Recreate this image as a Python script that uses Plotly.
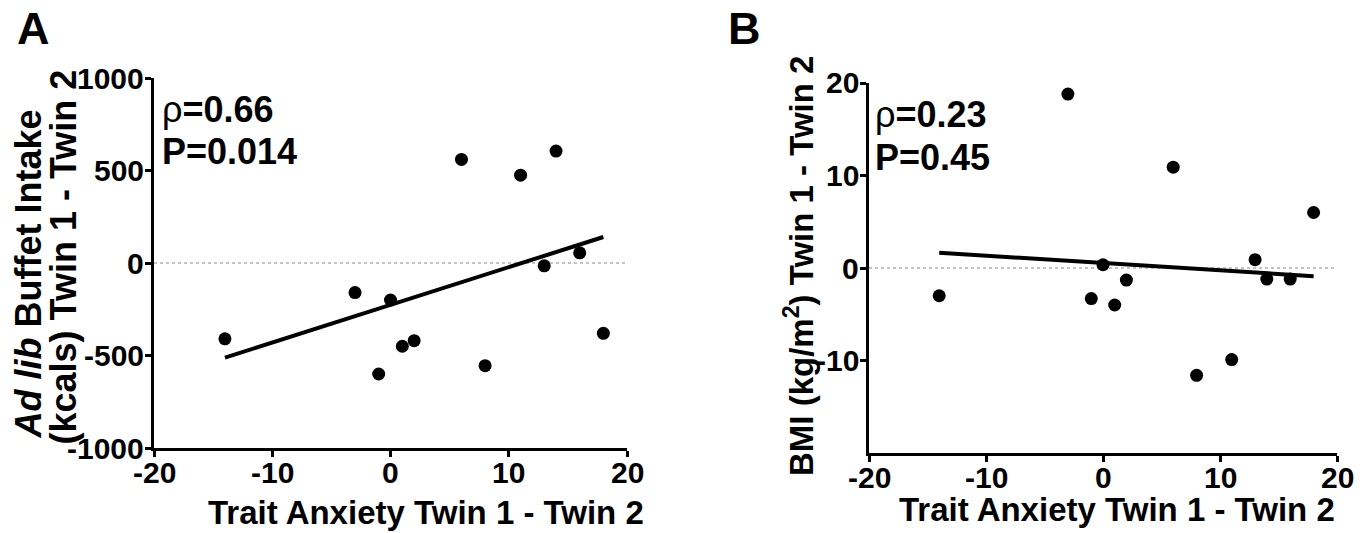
import numpy as np
import plotly.graph_objects as go

W, H = 1371, 533
FONT = "Liberation Sans, Arial, Helvetica, sans-serif"

# Panel A: trait anxiety difference vs. ad lib buffet intake difference
anxiety_a = [-14, -3, 0, -1, 1, 2, 6, 8, 11, 13, 14, 16, 18]
intake_a = [-410, -160, -200, -600, -450, -420, 560, -555, 475, -15, 605, 55, -380]

# Panel B: trait anxiety difference vs. BMI difference
anxiety_b = [-14, -3, -1, 0, 1, 2, 6, 8, 11, 13, 14, 16, 18]
bmi_b = [-3.0, 18.8, -3.3, 0.35, -4.0, -1.3, 10.9, -11.6, -9.9, 0.9, -1.2, -1.2, 6.0]

x_ticks = [-20, -10, 0, 10, 20]
x_tick_labels = ["-20", "-10", "0", "10", "20"]
a_y_ticks = [-1000, -500, 0, 500, 1000]
a_y_tick_labels = ["-1000", "-500", "0", "500", "1000"]
b_y_ticks = [-10, 0, 10, 20]
b_y_tick_labels = ["-10", "0", "10", "20"]

rho_a, p_a = "0.66", "0.014"
rho_b, p_b = "0.23", "0.45"

# plot-area edges in pixels: (left, right, top, bottom)
BOX_A = (154, 627, 78, 448)
BOX_B = (869, 1337, 83, 453)


def px_x(px):
    return px / W


def px_y(py):
    return 1 - py / H


def fit_line(x, y):
    slope, intercept = np.polyfit(x, y, 1)
    xs = np.array([min(x), max(x)], dtype=float)
    return xs, slope * xs + intercept


fig = go.Figure()

for xs, ys, xa, ya in [(anxiety_a, intake_a, "x", "y"), (anxiety_b, bmi_b, "x2", "y2")]:
    lx, ly = fit_line(xs, ys)
    fig.add_trace(go.Scatter(x=lx, y=ly, mode="lines", xaxis=xa, yaxis=ya,
                             line=dict(color="black", width=4), showlegend=False,
                             hoverinfo="skip"))
    fig.add_trace(go.Scatter(x=xs, y=ys, mode="markers", xaxis=xa, yaxis=ya,
                             marker=dict(color="black", size=13, line=dict(width=0)),
                             showlegend=False))

axis_common = dict(showline=True, linecolor="black", linewidth=3, ticks="outside",
                   ticklen=6, tickwidth=2.5, tickcolor="black", showgrid=False,
                   zeroline=False, showticklabels=False, fixedrange=True,
                   automargin=False, tickmode="array")

fig.update_layout(
    template="none",
    width=W, height=H, autosize=False,
    margin=dict(l=0, r=0, t=0, b=0),
    paper_bgcolor="white", plot_bgcolor="white",
    xaxis=dict(domain=[px_x(BOX_A[0]), px_x(BOX_A[1])], range=[-20, 20],
               tickvals=x_ticks, anchor="y", **axis_common),
    yaxis=dict(domain=[px_y(BOX_A[3]), px_y(BOX_A[2])], range=[-1000, 1000],
               tickvals=a_y_ticks, anchor="x", **axis_common),
    xaxis2=dict(domain=[px_x(BOX_B[0]), px_x(BOX_B[1])], range=[-20, 20],
                tickvals=x_ticks, anchor="y2", **axis_common),
    yaxis2=dict(domain=[px_y(BOX_B[3]), px_y(BOX_B[2])], range=[-20, 20],
                tickvals=b_y_ticks, anchor="x2", **axis_common),
)

# dotted reference line at zero
for xr, yr in [("x", "y"), ("x2", "y2")]:
    fig.add_shape(type="line", xref=xr, yref=yr, x0=-20, x1=20, y0=0, y1=0,
                  line=dict(color="#8a8a8a", width=1, dash="dot"), layer="below")

tick_font = dict(family=FONT, size=30, color="black", weight="bold")
title_font = dict(family=FONT, size=33, color="black", weight="bold")
ytitle_font_a = dict(family=FONT, size=36, color="black", weight="bold")
stat_font = dict(family=FONT, size=36, color="black", weight="bold")
letter_font = dict(family=FONT, size=45, color="black", weight="bold")

annotations = []

# tick labels, set tight against the axes
for xr, yr, box, yvals, ylabels in [("x", "y", BOX_A, a_y_ticks, a_y_tick_labels),
                                      ("x2", "y2", BOX_B, b_y_ticks, b_y_tick_labels)]:
    for v, t in zip(x_ticks, x_tick_labels):
        annotations.append(dict(text=t, xref=xr, x=v, yref="paper", y=px_y(box[3] + 24),
                                xanchor="center", yanchor="middle", font=tick_font))
    for v, t in zip(yvals, ylabels):
        annotations.append(dict(text=t, xref="paper", x=px_x(box[0] - 8), yref=yr, y=v,
                                xanchor="right", yanchor="middle", font=tick_font))

annotations += [
    # panel letters
    dict(text="A", x=px_x(15), y=px_y(29), xanchor="left", yanchor="middle", font=letter_font),
    dict(text="B", x=px_x(726), y=px_y(29), xanchor="left", yanchor="middle", font=letter_font),
    # x-axis titles
    dict(text="Trait Anxiety Twin 1 - Twin 2", x=px_x(426), y=px_y(512),
         xanchor="center", yanchor="middle", font=title_font),
    dict(text="Trait Anxiety Twin 1 - Twin 2", x=px_x(1117), y=px_y(509),
         xanchor="center", yanchor="middle", font=title_font),
    # y-axis titles
    dict(text="<i>Ad lib</i> Buffet Intake", x=px_x(28), y=px_y(441), textangle=-90,
         xanchor="center", yanchor="bottom", font=ytitle_font_a),
    dict(text="(kcals) Twin 1 - Twin 2", x=px_x(63), y=px_y(447), textangle=-90,
         xanchor="center", yanchor="bottom", font=ytitle_font_a),
    dict(text="BMI (kg/m<sup>2</sup>) Twin 1 - Twin 2", x=px_x(799), y=px_y(266),
         textangle=-90, xanchor="center", yanchor="middle", font=title_font),
    # correlation statistics
    dict(text=f"<span style='font-weight:normal'>ρ</span>={rho_a}", x=px_x(160), y=px_y(109),
         xanchor="left", yanchor="middle", font=stat_font),
    dict(text=f"P={p_a}", x=px_x(160), y=px_y(151), xanchor="left", yanchor="middle",
         font=stat_font),
    dict(text=f"<span style='font-weight:normal'>ρ</span>={rho_b}", x=px_x(873), y=px_y(114),
         xanchor="left", yanchor="middle", font=stat_font),
    dict(text=f"P={p_b}", x=px_x(873), y=px_y(157), xanchor="left", yanchor="middle",
         font=stat_font),
]
for a in annotations:
    a.setdefault("xref", "paper")
    a.setdefault("yref", "paper")
    a["showarrow"] = False
fig.update_layout(annotations=annotations)

fig.write_html("out.html")
